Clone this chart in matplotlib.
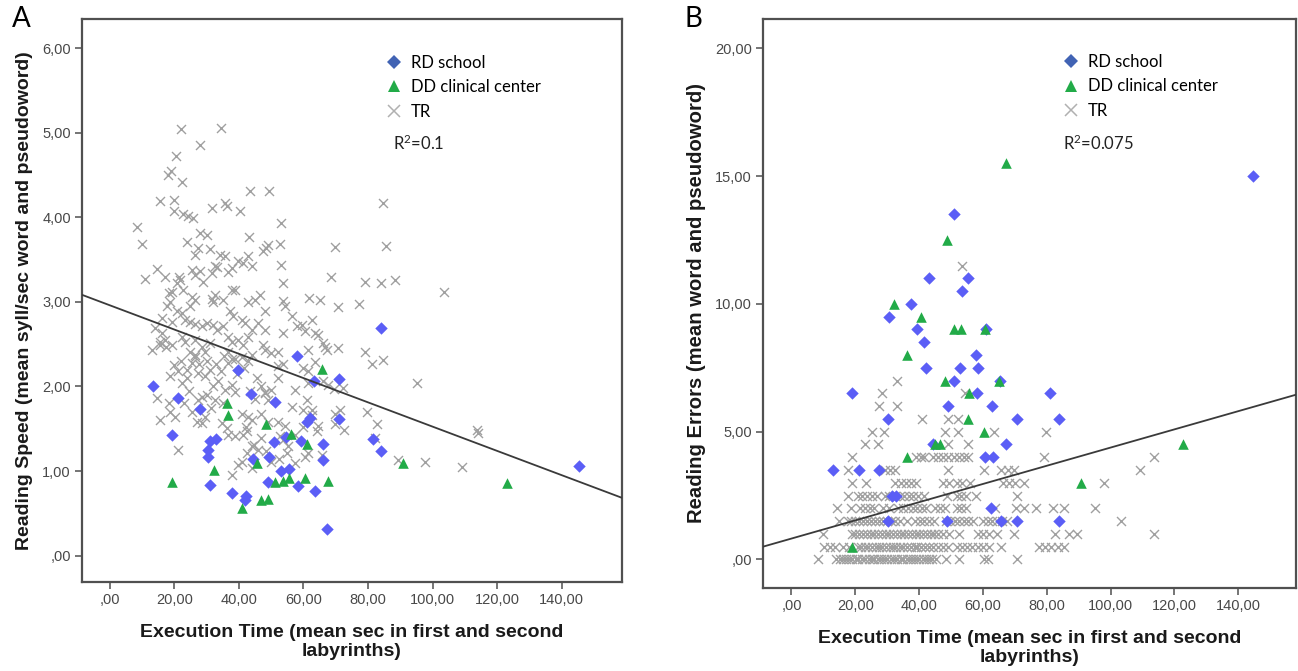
import matplotlib
matplotlib.use("Agg")
import matplotlib.pyplot as plt
from matplotlib.lines import Line2D
from matplotlib.ticker import FixedLocator, FuncFormatter

# ── DATA ──────────────────────────────────────────────────────────────────────

# Panel A: execution time vs reading speed
rd_time_a = [13.3, 19.3, 21.2, 27.8, 30.3, 30.3, 30.9, 31.0, 32.9, 38.0, 39.6,
             41.9, 42.2, 43.7, 44.3, 49.0, 49.4, 51.0, 51.3, 53.2, 54.5, 55.6,
             58.0, 58.2, 59.1, 61.0, 62.1, 63.4, 63.5, 66.0, 66.0, 67.4, 70.9,
             71.0, 81.4, 84.1, 84.1, 145.3]
rd_speed_a = [2.01, 1.43, 1.86, 1.73, 1.25, 1.17, 1.36, 0.84, 1.38, 0.74, 2.19,
              0.66, 0.71, 1.91, 1.14, 0.87, 1.17, 1.34, 1.82, 1.00, 1.40, 1.02,
              2.36, 0.82, 1.36, 1.58, 1.63, 2.06, 0.76, 1.32, 1.13, 0.32, 2.09,
              1.61, 1.38, 1.24, 2.69, 1.06]

dd_time_a = [19.3, 32.4, 36.4, 36.6, 40.9, 45.5, 46.9, 49.0, 48.5, 51.3, 53.6,
             55.6, 56.0, 60.6, 61.0, 65.7, 67.6, 91.0, 123.2]
dd_speed_a = [0.87, 1.01, 1.81, 1.66, 0.56, 1.10, 0.66, 0.67, 1.55, 0.87, 0.88,
              0.92, 1.44, 0.92, 1.32, 2.21, 0.88, 1.10, 0.86]

tr_time_a = [
    22.2, 34.5, 20.6, 27.9, 18.9, 18.0, 22.3, 15.7, 19.9, 19.9, 22.7, 24.1,
    35.8, 36.3, 40.3, 31.7, 43.4, 49.4, 84.6, 8.3, 10.0, 10.8, 25.7, 53.0,
    69.8, 85.5, 52.7, 48.5, 49.1, 43.2, 68.6, 79.0, 84.1, 88.3, 77.3, 70.7,
    103.6, 53.1, 53.6, 53.6, 61.8, 65.0,
    23.8, 27.9, 30.0, 26.4, 27.4, 31.0, 34.1, 35.7, 39.8, 41.4, 42.9, 47.6,
    44.0, 37.8, 36.7, 32.6, 31.6, 25.4, 26.4, 27.9, 29.0, 20.7, 21.8, 19.2,
    22.8, 25.4, 26.4, 24.9, 31.6, 32.6, 32.1, 37.8, 38.8, 35.2, 42.9, 45.0,
    46.5, 48.1, 18.7, 17.6, 20.7, 22.3, 14.7, 17.1, 18.4, 21.5, 33.3,
    23.3, 24.9, 26.4, 28.5, 30.0, 32.1, 33.1, 35.2, 37.2, 38.3, 40.9, 42.0,
    48.1, 47.6, 14.0, 16.1, 17.1, 15.6, 19.2, 22.3, 23.3, 26.4, 28.5, 31.0,
    29.5, 36.7, 37.8, 39.8, 41.4, 42.9, 44.0, 46.0, 24.9, 26.4, 36.7, 37.9,
    13.0, 16.1, 19.3, 15.5, 17.4,
    48.1, 50.1, 52.2, 52.2, 53.8, 54.3, 56.4, 57.9, 59.5, 60.5, 62.6, 63.6,
    64.6, 66.2, 67.2, 53.8, 61.5, 63.6, 66.7, 70.8, 60.0, 61.5, 66.2, 72.4,
    79.1, 81.2, 84.8, 95.1, 57.4, 61.5, 52.2, 50.1, 48.1, 56.4, 61.0, 60.0,
    62.6, 69.8, 79.6, 82.7, 69.8, 64.6, 64.1, 52.2, 54.3, 52.8, 55.3, 57.4,
    61.5, 82.2, 89.4, 97.7, 109.0, 113.8, 114.2, 65.7,
    14.5, 15.6, 18.7, 20.2, 18.7, 21.2, 18.3, 21.2, 22.3, 23.8, 25.4, 26.4,
    27.4, 28.5, 26.9, 28.5, 29.5, 27.4, 29.5, 31.0, 32.1, 33.6, 32.6, 35.2,
    35.7, 37.8, 38.8, 34.7, 36.2, 36.7, 38.8, 40.9, 42.9, 44.0, 41.4, 42.4,
    44.0, 46.0, 39.8, 37.8, 47.0, 48.1, 49.1, 47.0, 49.1, 47.0, 36.7, 38.8,
    40.9, 42.9, 44.0,
    20.0, 22.0, 24.0, 27.5, 30.0, 33.0, 34.5, 35.5, 39.5, 41.5, 45.5, 45.0,
    43.5, 31.5, 30.0, 24.5, 25.5, 23.0,
    42.2, 44.7, 48.5, 49.8, 52.3, 54.9, 53.6, 57.4, 59.9, 60.6, 62.5, 67.6,
    69.5, 71.4, 72.6, 40.9, 42.5, 44.1,
]
tr_speed_a = [
    5.04, 5.06, 4.73, 4.85, 4.55, 4.50, 4.42, 4.19, 4.20, 4.07, 4.04, 4.02,
    4.17, 4.14, 4.08, 4.11, 4.31, 4.31, 4.17, 3.88, 3.69, 3.27, 3.99, 3.93,
    3.65, 3.66, 3.69, 3.64, 3.67, 3.77, 3.30, 3.23, 3.22, 3.26, 2.97, 2.94,
    3.12, 3.44, 3.22, 3.01, 3.05, 3.02,
    3.71, 3.81, 3.79, 3.56, 3.64, 3.62, 3.56, 3.54, 3.48, 3.46, 3.54, 3.60,
    3.42, 3.40, 3.35, 3.42, 3.34, 3.38, 3.32, 3.36, 3.24, 3.22, 3.26, 3.12,
    3.14, 3.06, 3.02, 2.95, 3.04, 3.08, 3.00, 3.14, 3.14, 3.02, 3.00, 3.02,
    3.08, 2.89, 3.00, 2.95, 2.89, 2.87, 3.39, 3.30, 3.11, 3.29, 3.41,
    2.78, 2.76, 2.74, 2.72, 2.75, 2.73, 2.67, 2.71, 2.89, 2.83, 2.79, 2.75,
    2.67, 2.49, 2.69, 2.63, 2.55, 2.49, 2.49, 2.59, 2.53, 2.55, 2.47, 2.51,
    2.41, 2.59, 2.52, 2.55, 2.49, 2.59, 2.67, 2.75, 2.41, 2.37, 2.41, 2.32,
    2.43, 2.81, 2.76, 2.53, 2.47,
    2.43, 2.39, 2.41, 2.24, 2.26, 2.95, 2.83, 2.71, 2.73, 2.65, 2.79, 2.63,
    2.61, 2.51, 2.43, 2.63, 2.43, 2.29, 2.47, 2.45, 2.22, 2.18, 2.06, 1.98,
    2.41, 2.26, 2.31, 2.04, 1.96, 2.04, 2.10, 1.96, 1.94, 1.76, 1.84, 1.72,
    1.66, 1.68, 1.70, 1.55, 1.55, 1.53, 1.47, 1.58, 1.53, 1.41, 1.29, 1.09,
    1.21, 1.39, 1.13, 1.11, 1.05, 1.49, 1.45, 1.19,
    1.86, 1.60, 1.70, 1.64, 2.12, 2.18, 1.80, 1.25, 2.04, 2.10, 2.28, 2.35,
    1.84, 1.88, 1.58, 1.57, 1.64, 2.16, 2.12, 2.20, 2.00, 2.06, 1.84, 1.80,
    1.96, 2.02, 1.94, 1.57, 1.51, 1.43, 1.41, 1.68, 1.64, 1.60, 1.43, 1.47,
    1.29, 1.25, 1.07, 0.95, 2.00, 1.92, 1.84, 1.68, 1.58, 1.39, 2.28, 2.32,
    2.35, 2.30, 2.37,
    2.25, 2.30, 2.20, 2.26, 2.30, 2.27, 2.18, 2.36, 2.15, 2.22, 2.10, 1.85,
    1.95, 1.75, 1.90, 1.95, 1.70, 1.80,
    1.52, 1.31, 1.24, 1.11, 1.14, 1.21, 1.37, 1.42, 1.52, 1.16, 1.72, 2.02,
    1.97, 1.72, 1.49, 1.11, 1.21, 1.04,
]

# Panel B: execution time vs reading errors
rd_time_b = [13.0, 19.1, 21.1, 27.5, 30.2, 30.6, 31.5, 32.8, 30.2, 37.6, 39.2,
             41.5, 42.1, 43.2, 44.4, 48.8, 49.2, 50.8, 50.8, 52.9, 53.6, 55.3,
             57.8, 58.1, 58.6, 60.7, 62.5, 62.8, 63.3, 65.5, 65.8, 67.1, 70.6,
             70.6, 81.0, 83.9, 83.9, 144.8, 60.9]
rd_errors_b = [3.5, 6.5, 3.5, 3.5, 5.5, 9.5, 2.5, 2.5, 1.5, 10.0, 9.0,
               8.5, 7.5, 11.0, 4.5, 1.5, 6.0, 13.5, 7.0, 7.5, 10.5, 11.0,
               8.0, 6.5, 7.5, 4.0, 2.0, 6.0, 4.0, 7.0, 1.5, 4.5, 5.5,
               1.5, 6.5, 5.5, 1.5, 15.0, 9.0]

dd_time_b = [19.0, 32.2, 36.2, 36.2, 40.6, 45.1, 46.6, 48.2, 48.6, 51.0, 53.1,
             55.2, 55.7, 60.2, 60.7, 65.1, 67.2, 90.8, 122.8]
dd_errors_b = [0.5, 10.0, 8.0, 4.0, 9.5, 4.5, 4.5, 7.0, 12.5, 9.0, 9.0,
               5.5, 6.5, 5.0, 9.0, 7.0, 15.5, 3.0, 4.5]

# TR errors are whole/half counts, so they are listed row by row
tr_error_levels_b = [0.0, 0.5, 1.0, 1.5, 2.0, 2.5, 3.0, 3.5, 4.0, 4.5, 5.0,
                     5.5, 6.0, 6.5, 7.0, 11.5]
tr_times_b = [
    [8.2, 14.0, 15.1, 16.0, 17.2, 18.1, 19.0, 20.2, 21.0, 22.1, 23.0, 24.2,
     25.1, 26.0, 27.2, 28.0, 29.1, 30.0, 31.2, 32.0, 33.1, 34.2, 35.0, 36.1,
     37.2, 38.0, 39.1, 40.0, 41.2, 42.1, 43.0, 44.2, 45.2, 48.4, 52.4, 60.3,
     61.6, 70.6],
    [10.3, 12.0, 13.8, 16.0, 18.0, 20.8, 21.9, 23.1, 24.0, 25.2, 26.4, 27.3,
     28.5, 29.6, 30.8, 31.7, 32.9, 34.0, 35.1, 36.3, 37.4, 38.6, 39.5, 40.7,
     41.8, 43.0, 44.3, 46.0, 47.6, 49.2, 51.8, 53.5, 55.0, 56.6, 58.4, 60.0,
     62.0, 65.8, 77.6, 79.5, 81.2, 83.6, 85.3],
    [9.8, 18.9, 20.0, 21.2, 22.5, 23.6, 24.8, 26.0, 27.1, 28.3, 29.5, 30.6,
     31.8, 33.0, 34.2, 35.4, 36.5, 37.7, 38.9, 40.0, 41.2, 42.4, 43.6, 44.8,
     46.0, 47.5, 49.3, 52.6, 58.5, 60.0, 61.8, 64.5, 69.8, 82.5, 87.0, 89.5,
     113.7],
    [15.0, 17.6, 18.8, 20.0, 21.3, 22.5, 23.8, 25.0, 26.3, 27.5, 28.8, 30.0,
     31.3, 32.6, 34.0, 36.3, 38.8, 40.2, 41.6, 43.0, 44.6, 48.5, 49.8, 51.2,
     52.6, 54.0, 55.4, 57.0, 60.0, 61.5, 63.0, 64.5, 65.9, 67.7, 103.3],
    [14.3, 18.6, 21.5, 23.0, 24.5, 26.0, 28.6, 30.5, 33.5, 35.0, 36.5, 38.0,
     39.5, 41.0, 42.3, 44.9, 46.5, 48.2, 52.0, 53.2, 54.7, 63.8, 70.3, 72.9,
     76.8, 82.0, 85.3, 95.2],
    [17.7, 20.8, 22.2, 23.8, 25.2, 26.7, 29.3, 30.6, 32.6, 34.0, 35.4, 36.8,
     38.2, 39.6, 41.7, 48.8, 52.0, 53.2, 54.7, 57.7, 70.6],
    [18.9, 23.4, 32.6, 34.2, 35.8, 37.4, 39.0, 47.5, 49.5, 51.8, 53.5, 56.0,
     66.4, 68.2, 70.0, 72.9, 97.9],
    [17.7, 29.3, 30.8, 32.6, 49.1, 60.2, 65.8, 67.8, 69.7, 109.4],
    [18.9, 39.0, 40.5, 41.7, 44.3, 46.0, 47.6, 49.2, 50.8, 52.5, 54.0, 55.3,
     79.2, 113.7],
    [23.0, 27.0, 49.1, 55.3],
    [25.4, 29.0, 48.2, 52.1, 63.5, 79.7],
    [41.0, 49.2, 52.1],
    [27.5, 33.2],
    [28.3, 54.3],
    [33.2],
    [53.6],
]

# fit lines (intercept, slope) and R² labels
fit_a = (2.96, -0.01435)
fit_b = (0.815, 0.0356)
r2_a = r"R$^{2}$=0.1"
r2_b = r"R$^{2}$=0.075"

x_ticks = [0, 20, 40, 60, 80, 100, 120, 140]
y_ticks_a = [0, 1, 2, 3, 4, 5, 6]
y_ticks_b = [0, 5, 10, 15, 20]

# ── STYLE ─────────────────────────────────────────────────────────────────────

BLUE = "#5b5ef6"
BLUE_LEG = "#4163b4"
GREEN = "#22ab48"
GREY = "#a0a0a0"
FRAME = "#505050"
XLABEL = "Execution Time (mean sec in first and second\nlabyrinths)"


def comma_fmt(v, pos=None):
    s = f"{v:.2f}".replace(".", ",")
    return s[1:] if s.startswith("0,") else s


def style_axes(ax, xlim, ylim, yticks):
    ax.set_xlim(*xlim)
    ax.set_ylim(*ylim)
    ax.xaxis.set_major_locator(FixedLocator(x_ticks))
    ax.yaxis.set_major_locator(FixedLocator(yticks))
    ax.xaxis.set_major_formatter(FuncFormatter(comma_fmt))
    ax.yaxis.set_major_formatter(FuncFormatter(comma_fmt))
    ax.tick_params(direction="out", length=5, width=1.1, color=FRAME,
                   labelsize=10.5, labelcolor="#484848", pad=3)
    for sp in ax.spines.values():
        sp.set_color(FRAME)
        sp.set_linewidth(1.6)


def label_axes(ax, ylabel, ysize):
    ax.set_ylabel(ylabel, fontsize=ysize, fontweight="bold", color="#1a1a1a",
                  labelpad=7)
    ax.set_xlabel(XLABEL, fontsize=14, fontweight="bold", color="#1a1a1a",
                  labelpad=12, linespacing=1.2)


def scatter_groups(ax, rd, dd, tr):
    ax.scatter(*tr, marker="x", s=42, color=GREY, linewidths=1.0, zorder=2)
    ax.scatter(*rd, marker="D", s=40, color=BLUE, linewidths=0, zorder=3)
    ax.scatter(*dd, marker="^", s=58, color=GREEN, linewidths=0, zorder=3)


def add_legend(ax, anchor, r2, r2_pos):
    handles = [
        Line2D([], [], ls="", marker="D", ms=7, color=BLUE_LEG, mew=0),
        Line2D([], [], ls="", marker="^", ms=8.5, color=GREEN, mew=0),
        Line2D([], [], ls="", marker="x", ms=8, color="#b0b0b0", mew=1.1),
    ]
    labels = ["RD school", "DD clinical center", "TR"]
    ax.legend(handles, labels, loc="upper left", bbox_to_anchor=anchor,
              frameon=False, handlelength=0.8, handletextpad=0.6,
              labelspacing=0.5, borderaxespad=0,
              prop={"family": "Lato", "size": 12})
    ax.text(*r2_pos, r2, transform=ax.transAxes, family="Lato",
            fontsize=12, color="#222222", va="center", ha="left")


plt.rcParams["font.family"] = ["Liberation Sans", "DejaVu Sans"]
plt.rcParams["mathtext.fontset"] = "custom"
plt.rcParams["mathtext.rm"] = "Lato"
plt.rcParams["mathtext.it"] = "Lato"
plt.rcParams["mathtext.default"] = "regular"

fig = plt.figure(figsize=(12.98, 6.71), dpi=100)
ax_a = fig.add_axes([0.0632, 0.1326, 0.416, 0.839])
ax_b = fig.add_axes([0.588, 0.1237, 0.4106, 0.848])

# Panel A
scatter_groups(ax_a, (rd_time_a, rd_speed_a), (dd_time_a, dd_speed_a),
               (tr_time_a, tr_speed_a))
ax_a.axline((0, fit_a[0]), slope=fit_a[1], color="#3a3a3a", lw=1.3, zorder=4)
style_axes(ax_a, (-8.6, 158.7), (-0.313, 6.345), y_ticks_a)
label_axes(ax_a, "Reading Speed (mean syll/sec word and pseudoword)", 14.0)
add_legend(ax_a, (0.553, 0.948), r2_a, (0.575, 0.78))

# Panel B
tr_time_b, tr_errors_b = [], []
for level, row in zip(tr_error_levels_b, tr_times_b):
    tr_time_b.extend(row)
    tr_errors_b.extend([level] * len(row))
scatter_groups(ax_b, (rd_time_b, rd_errors_b), (dd_time_b, dd_errors_b),
               (tr_time_b, tr_errors_b))
ax_b.axline((0, fit_b[0]), slope=fit_b[1], color="#3a3a3a", lw=1.3, zorder=4)
style_axes(ax_b, (-8.85, 158.2), (-1.12, 21.15), y_ticks_b)
label_axes(ax_b, "Reading Errors (mean word and pseudoword)", 14.6)
add_legend(ax_b, (0.553, 0.95), r2_b, (0.562, 0.782))

fig.text(0.009, 0.972, "A", family="Lato", fontsize=20, va="center")
fig.text(0.527, 0.972, "B", family="Lato", fontsize=20, va="center")

fig.savefig("out.png", dpi=100)
